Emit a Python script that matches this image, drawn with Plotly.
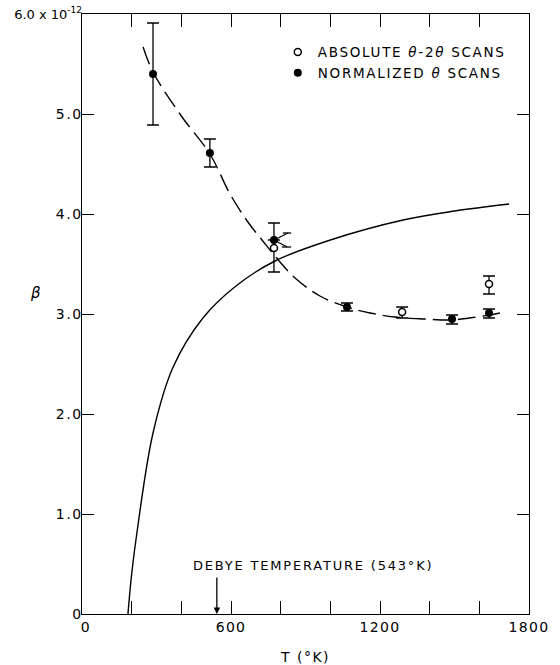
import plotly.graph_objects as go

# ---- data ----
norm_T = [286, 515, 773, 1067, 1490, 1639]
norm_beta = [5.40, 4.61, 3.74, 3.07, 2.95, 3.01]
norm_err_plus = [0.51, 0.14, 0.0, 0.04, 0.04, 0.04]
norm_err_minus = [0.51, 0.14, 0.0, 0.04, 0.05, 0.05]

abs_T = [773, 1289, 1639]
abs_beta = [3.66, 3.02, 3.30]
abs_err_plus = [0.25, 0.05, 0.08]
abs_err_minus = [0.24, 0.06, 0.10]

# side bracket (arms + caps) drawn next to the 773 K normalized point
bracket_T = [773, 830, None, 809, 842, None, 773, 826, None, 805, 842]
bracket_beta = [3.74, 3.81, None, 3.81, 3.81, None, 3.74, 3.67, None, 3.67, 3.67]

dash_T = [246, 286, 400, 515, 596, 668, 725, 777, 858, 958, 1067, 1160, 1260, 1380, 1482, 1560, 1639, 1703]
dash_beta = [5.67, 5.42, 4.98, 4.60, 4.20, 3.92, 3.74, 3.58, 3.36, 3.18, 3.07, 3.01, 2.97, 2.95, 2.94, 2.96, 2.99, 3.02]

solid_T = [185, 200, 221, 286, 367, 487, 620, 777, 1000, 1293, 1500, 1720]
solid_beta = [0.0, 0.40, 0.81, 1.81, 2.47, 2.96, 3.28, 3.53, 3.74, 3.94, 4.03, 4.10]

debye_T = 543

x_tickvals = [0, 600, 1200, 1800]
x_ticktext = ["0", "600", "1200", "1800"]
y_tickvals = [0, 1, 2, 3, 4, 5, 6]
y_ticktext = ["0", "1.0", "2.0", "3.0", "4.0", "5.0", "6.0 x 10"]
y_top_exponent = "-12"

FONT = "DejaVu Sans"


def spaced(s, px):
    return f"<span style='letter-spacing:{px}px'>{s}</span>"


def y_label(s, exp=None):
    # letter-spaced label whose last glyph gets a reduced advance, so the
    # right-aligned label sits closer to the axis line (as in the reference)
    if exp is None:
        head, tail = s[:-1], s[-1]
        return (spaced(head, 1.5) if head else "") + f"<span style='letter-spacing:-3px'>{tail}</span>"
    return ("<span style='font-size:13px'>" + s + "</span><sup><span style='font-size:9px'>" + exp[:-1] +
            f"<span style='letter-spacing:-4px'>{exp[-1]}</span></span></sup>")


def x_label(s):
    if s == "0":
        return "<span style='letter-spacing:2px'>&nbsp;</span>0"
    return spaced(s, 1.3)


fig = go.Figure()

fig.add_trace(go.Scatter(x=solid_T, y=solid_beta, mode="lines", line=dict(color="black", width=1.4, shape="spline"),
                         showlegend=False, hoverinfo="skip"))
fig.add_trace(go.Scatter(x=dash_T, y=dash_beta, mode="lines",
                         line=dict(color="black", width=1.4, shape="spline", dash="18px,7px"),
                         showlegend=False, hoverinfo="skip"))
fig.add_trace(go.Scatter(x=bracket_T, y=bracket_beta, mode="lines", line=dict(color="black", width=1.3),
                         showlegend=False, hoverinfo="skip"))

fig.add_trace(go.Scatter(
    x=abs_T, y=abs_beta, mode="markers", name=spaced("ABSOLUTE <i>θ</i>-2<i>θ</i> SCANS", 1.7),
    marker=dict(symbol="circle", size=7, color="white", line=dict(color="black", width=1.5)),
    error_y=dict(type="data", array=abs_err_plus, arrayminus=abs_err_minus, color="black", thickness=1.3, width=6)))
fig.add_trace(go.Scatter(
    x=norm_T, y=norm_beta, mode="markers", name=spaced("NORMALIZED <i>θ</i> SCANS", 1.7),
    marker=dict(symbol="circle", size=8, color="black"),
    error_y=dict(type="data", array=norm_err_plus, arrayminus=norm_err_minus, color="black", thickness=1.3, width=6)))

axis_common = dict(showgrid=False, zeroline=False, showline=True, linecolor="black", linewidth=1.3,
                   mirror="ticks", ticks="inside", tickcolor="black", tickwidth=1.3, automargin=False,
                   tickfont=dict(family=FONT, size=14, color="black"))

x_all = list(range(0, 1801, 200))
fig.update_xaxes(range=[0, 1800], tickmode="array", tickvals=x_all,
                 ticktext=[x_label(x_ticktext[x_tickvals.index(v)]) if v in x_tickvals else "" for v in x_all],
                 ticklen=13,
                 title=dict(text=spaced("T (°K)", 1.5), font=dict(family=FONT, size=14, color="black"), standoff=18),
                 **axis_common)
fig.update_yaxes(range=[0, 6], tickmode="array", tickvals=y_tickvals,
                 ticktext=[y_label(t) if i < 6 else y_label(t, y_top_exponent) for i, t in enumerate(y_ticktext)],
                 ticklen=12, **axis_common)

fig.add_annotation(x=debye_T, y=0, ax=debye_T, ay=0.38, xref="x", yref="y", axref="x", ayref="y",
                   text="", showarrow=True, arrowhead=2, arrowsize=1, arrowwidth=1.3, arrowcolor="black")
fig.add_annotation(x=0.516, y=0.49, xref="paper", yref="y", text=spaced("DEBYE TEMPERATURE (543°K)", 1.8),
                   showarrow=False, font=dict(family=FONT, size=13, color="black"), xanchor="center", yanchor="middle")
fig.add_annotation(x=-0.12, y=3.21, xref="paper", yref="y", text="<i>β</i>", showarrow=False,
                   font=dict(family=FONT, size=15, color="black"))

fig.update_layout(
    width=560, height=665, margin=dict(l=82, r=31, t=14, b=51, autoexpand=False),
    paper_bgcolor="white", plot_bgcolor="white",
    legend=dict(x=0.438, y=0.962, xanchor="left", yanchor="top", bgcolor="rgba(0,0,0,0)",
                font=dict(family=FONT, size=13.5, color="black"), itemwidth=30, tracegroupgap=0),
)

fig.write_html("out.html")
